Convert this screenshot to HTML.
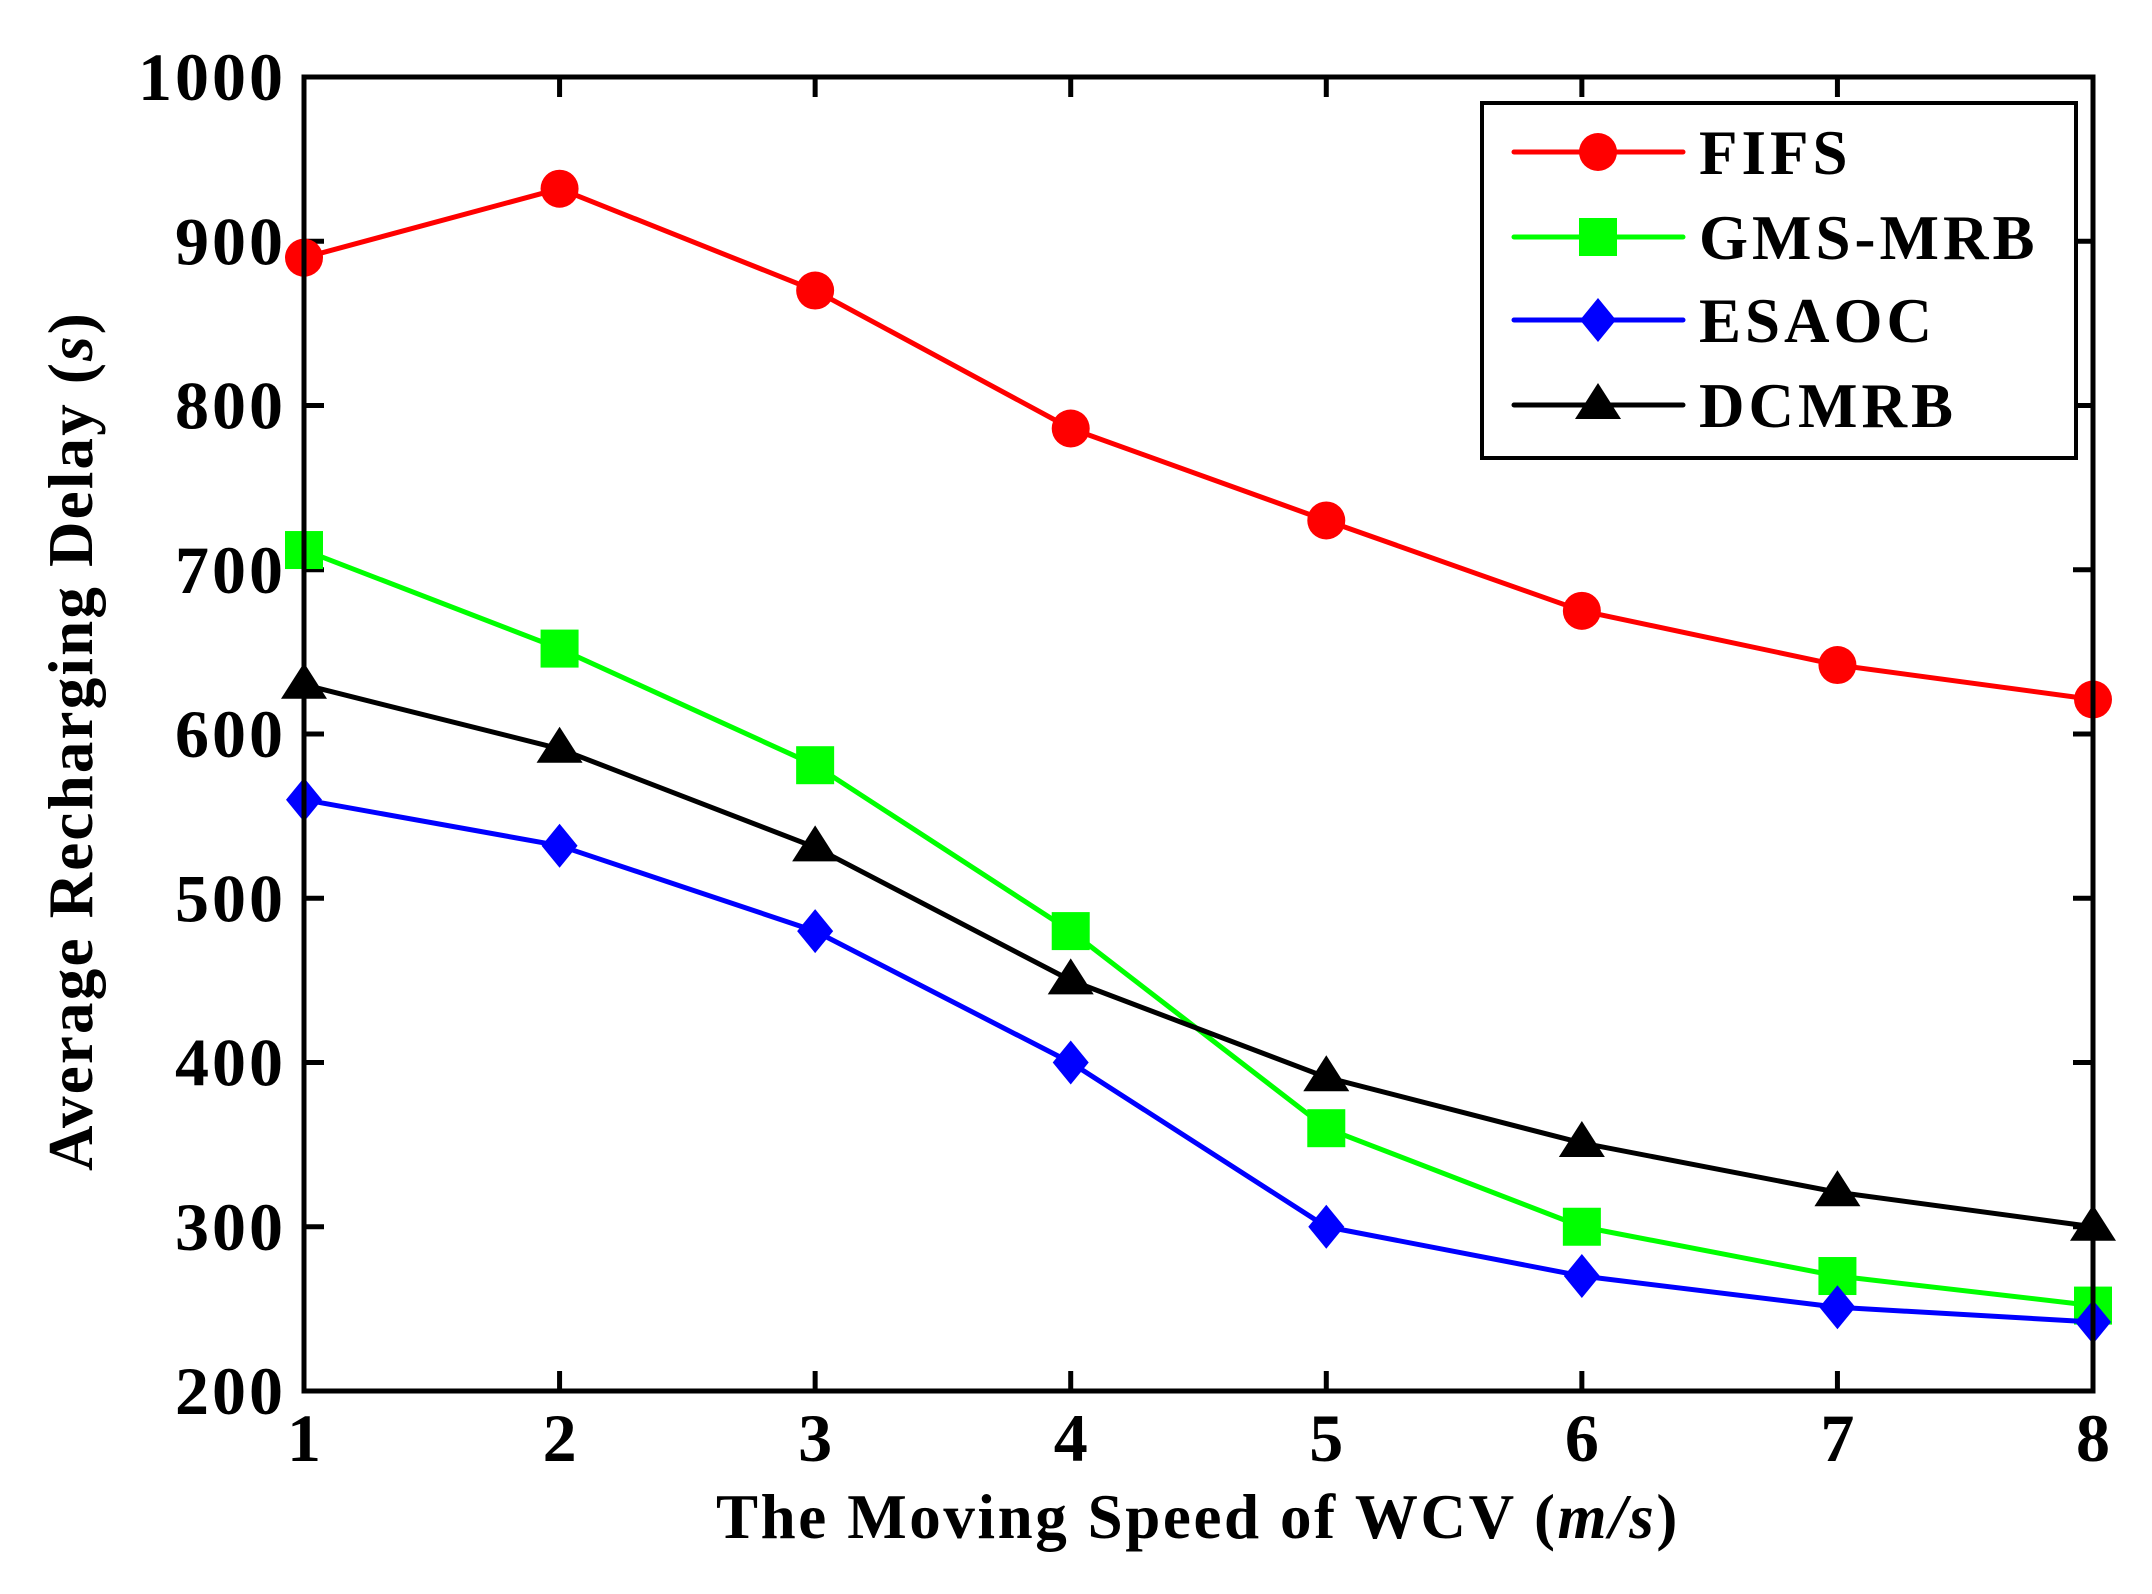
<!DOCTYPE html>
<html><head><meta charset="utf-8"><style>
html,body{margin:0;padding:0;background:#fff}
svg{display:block}
text{font-family:"Liberation Serif",serif;font-weight:bold;fill:#000}
</style></head><body>
<svg id="chart" width="2152" height="1594" viewBox="0 0 2152 1594" xmlns="http://www.w3.org/2000/svg">
<g id="grid"></g>
<g id="series"></g>
<rect x="304" y="77" width="1789" height="1314" fill="none" stroke="#000" stroke-width="5"/>
<text x="1198" y="1538" font-size="63" letter-spacing="2.6" text-anchor="middle">The Moving Speed of WCV (<tspan font-style="italic">m/s</tspan>)</text>
<text transform="translate(92,741) rotate(-90)" font-size="63" letter-spacing="2.2" text-anchor="middle">Average Recharging Delay (<tspan font-style="italic">s</tspan>)</text>
<g>
<rect x="1482" y="103" width="594" height="355" fill="#fff" stroke="#000" stroke-width="4"/>
<g id="legend-items"></g>
</g>
</svg>
<script>
const categories = [1,2,3,4,5,6,7,8];
const yTicks = [200,300,400,500,600,700,800,900,1000];
const seriesNames = ["FIFS","GMS-MRB","ESAOC","DCMRB"];
const fifs = [890,932,870,786,730,675,642,621];
const gmsMrb = [712,652,581,480,360,300,270,252];
const esaoc = [560,532,480,400,300,270,251,242];
const dcmrb = [630,591,531,450,391,351,321,300];

const NS="http://www.w3.org/2000/svg";
const L=304,R=2093,T=77,B=1391;
const xs=v=>L+(v-1)/(7)*(R-L);
const ys=v=>B-(v-200)/800*(B-T);
function mk(tag,attrs,parent){const e=document.createElementNS(NS,tag);for(const k in attrs)e.setAttribute(k,attrs[k]);parent.appendChild(e);return e;}
const grid=document.getElementById('grid');
categories.forEach(c=>{
  const x=xs(c);
  const t1=mk('line',{x1:x,y1:B,x2:x,y2:B-20,stroke:'#000','stroke-width':5},grid);
  
  
  const t2=mk('line',{x1:x,y1:T,x2:x,y2:T+20,stroke:'#000','stroke-width':5},grid);
  
  
  const lb=mk('text',{x:x,y:1461,'font-size':68,'text-anchor':'middle'},grid);
  lb.textContent=c;
  
  
});
yTicks.forEach(v=>{
  const y=ys(v);
  const t1=mk('line',{x1:L,y1:y,x2:L+20,y2:y,stroke:'#000','stroke-width':5},grid);
  
  
  const t2=mk('line',{x1:R,y1:y,x2:R-20,y2:y,stroke:'#000','stroke-width':5},grid);
  
  
  const lb=mk('text',{x:286,y:y+23,'font-size':68,'letter-spacing':3,'text-anchor':'end'},grid);
  lb.textContent=v;
  
  
});
const colors=['#ff0000','#00ff00','#0000ff','#000000'];
const shapes=['circle','square','diamond','triangle'];
function marker(shape,x,y,color,parent){
  let e;
  if(shape==='circle') e=mk('ellipse',{cx:x,cy:y,rx:19,ry:19,fill:color},parent);
  else if(shape==='square') e=mk('rect',{x:x-19,y:y-19,width:38,height:38,fill:color},parent);
  else if(shape==='diamond') e=mk('polygon',{points:`${x},${y-22} ${x+18},${y} ${x},${y+22} ${x-18},${y}`,fill:color},parent);
  else e=mk('polygon',{points:`${x},${y-22} ${x+23},${y+14} ${x-23},${y+14}`,fill:color},parent);
  return e;
}
const data=[fifs,gmsMrb,esaoc,dcmrb];
const sg=document.getElementById('series');
data.forEach((vals,i)=>{
  const g=mk('g',{},sg);
  
  
  const pts=vals.map((v,j)=>xs(categories[j])+','+ys(v)).join(' ');
  const pl=mk('polyline',{points:pts,fill:'none',stroke:colors[i],'stroke-width':5,'stroke-linejoin':'round'},g);
  
  
  vals.forEach((v,j)=>{
    const m=marker(shapes[i],xs(categories[j]),ys(v),colors[i],g);
    
    
  });
});
const lg=document.getElementById('legend-items');
const ly=[152,237,320,405];
seriesNames.forEach((n,i)=>{
  const g=mk('g',{},lg);
  
  
  mk('line',{x1:1514,y1:ly[i],x2:1683,y2:ly[i],stroke:colors[i],'stroke-width':5,'stroke-linecap':'round'},g);
  marker(shapes[i],1598,ly[i],colors[i],g);
  const t=mk('text',{x:1699,y:ly[i]+22,'font-size':63,'letter-spacing':4},g);
  t.textContent=n;
  
  
});
</script>
</body></html>
